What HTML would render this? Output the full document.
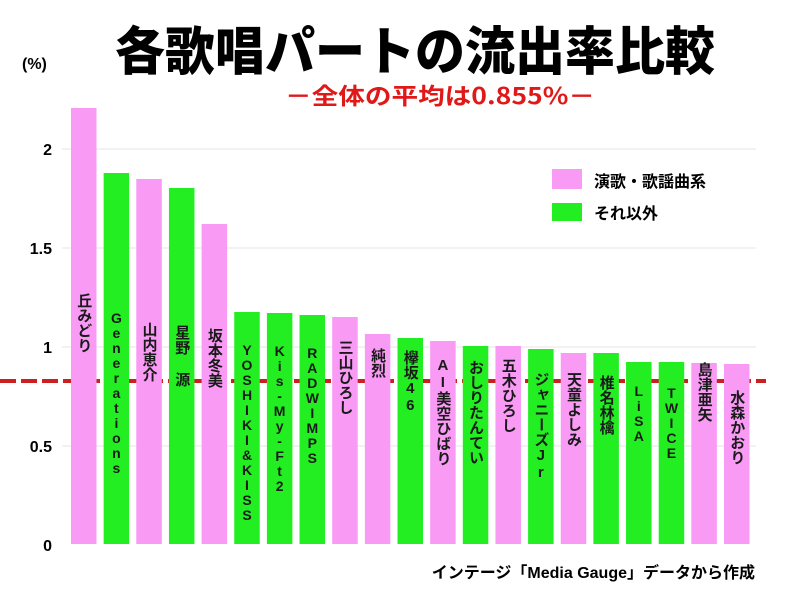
<!DOCTYPE html>
<html><head><meta charset="utf-8"><style>
body{margin:0;background:#fff;}
svg{display:block;font-family:"Liberation Sans","Noto Sans CJK JP",sans-serif;}
</style></head><body>
<svg width="800" height="600" viewBox="0 0 800 600" xmlns="http://www.w3.org/2000/svg">
<rect width="800" height="600" fill="#fff"/>
<text x="415" y="70" text-anchor="middle" font-size="52" font-weight="900" fill="#000" textLength="600" lengthAdjust="spacingAndGlyphs" font-family="'Noto Sans CJK JP',sans-serif">各歌唱パートの流出率比較</text>
<text x="22" y="69" font-size="16" font-weight="bold" fill="#000">(%)</text>
<text x="440" y="104" text-anchor="middle" font-size="23" font-weight="bold" fill="#e01818" textLength="310" lengthAdjust="spacingAndGlyphs" font-family="'Noto Sans CJK JP',sans-serif">－全体の平均は0.855%－</text>
<g stroke="#e6e6e6" stroke-width="1">
<line x1="62" y1="149" x2="756" y2="149"/><line x1="62" y1="248" x2="756" y2="248"/><line x1="62" y1="347" x2="756" y2="347"/><line x1="62" y1="446" x2="756" y2="446"/>
</g>
<g font-size="16" text-anchor="end" fill="#000" font-weight="bold">
<text x="52" y="155">2</text><text x="52" y="254">1.5</text><text x="52" y="353">1</text><text x="52" y="452">0.5</text><text x="52" y="551">0</text>
</g>
<line x1="0" y1="381" x2="766" y2="381" stroke="#cc2020" stroke-width="4" stroke-dasharray="16,5"/>
<g id="bars"></g>
<rect x="552" y="169" width="30" height="20" fill="#f99af5"/>
<rect x="552" y="203" width="30" height="18" fill="#22ee22"/>
<text x="594" y="187" font-size="16" font-weight="bold" fill="#000">演歌・歌謡曲系</text>
<text x="594" y="219" font-size="16" font-weight="bold" fill="#000">それ以外</text>
<text x="755" y="578" text-anchor="end" font-size="16" font-weight="bold" fill="#000">インテージ「Media Gauge」データから作成</text>
</svg>
<script>
var d=[["丘みどり",108,0,293],["Generations",173,1,310],["山内恵介",179,0,322],["星野 源",188,1,325],["坂本冬美",224,0,328],["YOSHIKI&KISS",312,1,342],["Kis-My-Ft2",313,1,343],["RADWIMPS",315,1,345],["三山ひろし",317,0,340],["純烈",334,0,348],["欅坂46",338,1,350],["AI美空ひばり",341,0,357],["おしりたんてい",346,1,360],["五木ひろし",346,0,358],["ジャニーズJr",349,1,372],["天童よしみ",353,0,372],["椎名林檎",353,1,375],["LiSA",362,1,383],["TWICE",362,1,385],["島津亜矢",363,0,362],["水森かおり",364,0,390]];
var g=document.getElementById("bars"),s="";
d.forEach(function(b,i){var x=71+i*32.65;
var lat=/^[A-Za-z&\-0-9]+$/.test(b[0]);
s+='<rect x="'+x+'" y="'+b[1]+'" width="25.5" height="'+(544-b[1])+'" fill="'+(b[2]?"#22ee22":"#f99af5")+'"/>';
s+='<text x="'+(x+12.75)+'" y="'+b[3]+'" font-size="'+(lat?14:15)+'" font-weight="bold" fill="#1a1a1a" style="writing-mode:vertical-rl;text-orientation:upright;letter-spacing:'+(lat?'-1px':'0')+'">'+b[0]+'</text>';});
g.innerHTML=s;
</script>
</body></html>
